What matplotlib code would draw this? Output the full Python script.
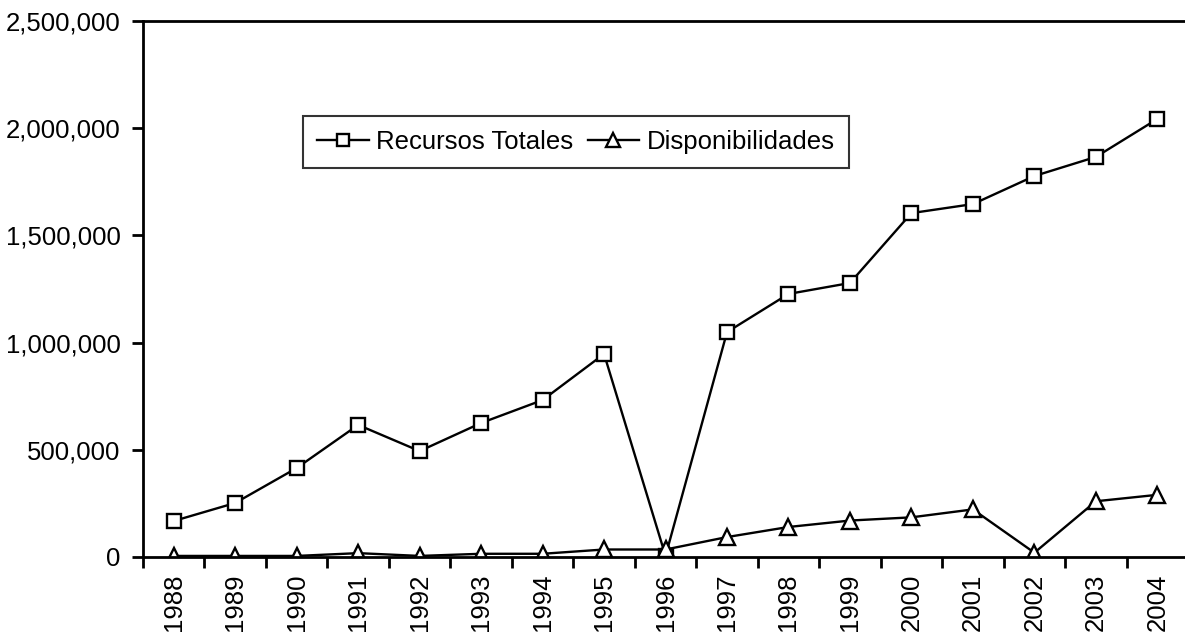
import numpy as np
import matplotlib.pyplot as plt
from matplotlib.ticker import FuncFormatter

plt.rcParams['font.family'] = ['Liberation Sans', 'DejaVu Sans']

years = [str(y) for y in range(1988, 2005)]
recursos = [168000, 252000, 415000, 616000, 494000, 625000, 732000, 947000, 5000,
            1049000, 1227000, 1278000, 1604000, 1646000, 1777000, 1866000, 2043000]
disponib = [5000, 5000, 5000, 18000, 5000, 15000, 15000, 35000, 35000,
            93000, 140000, 170000, 185000, 222000, 20000, 260000, 290000]

W, H = 1185, 635
fig = plt.figure(figsize=(W / 100, H / 100), dpi=100)
ax = fig.add_axes([143 / W, 1 - 557 / H, 1 - 143 / W, (557 - 21) / H])

x = np.arange(len(years))
ax.plot(x, recursos, color='black', lw=1.7, marker='s', ms=10,
        mfc='white', mec='black', mew=1.7, label='Recursos Totales')
ax.plot(x, disponib, color='black', lw=1.7, marker='^', ms=12,
        mfc='white', mec='black', mew=1.7, label='Disponibilidades')

ax.set_ylim(0, 2500000)
ax.set_xlim(-0.5, 16.45)
ax.set_yticks(np.arange(0, 2500001, 500000))
ax.yaxis.set_major_formatter(FuncFormatter(lambda v, p: f'{int(v):,}'))

ax.set_xticks(x)
ax.set_xticklabels(years, rotation=90)
ax.set_xticks(np.arange(-0.5, 16.5, 1), minor=True)
ax.tick_params(axis='x', which='major', length=0, pad=12, labelsize=18.5)
ax.tick_params(axis='x', which='minor', length=8, width=2, direction='out')
ax.tick_params(axis='y', length=8, width=2, direction='out', labelsize=18.5, pad=8)

for s in ['left', 'bottom', 'top']:
    ax.spines[s].set_linewidth(2)
ax.spines['right'].set_visible(False)

leg = ax.legend(loc='upper left', bbox_to_anchor=(0.1536, 0.823), ncol=2,
                fontsize=18.5, frameon=True, fancybox=False, borderaxespad=0,
                handlelength=2.0, handletextpad=0.3, columnspacing=0.55,
                borderpad=0.55, markerscale=0.8)
leg.get_frame().set_edgecolor('black')
leg.get_frame().set_linewidth(1.5)

fig.savefig('out.png', dpi=100)
